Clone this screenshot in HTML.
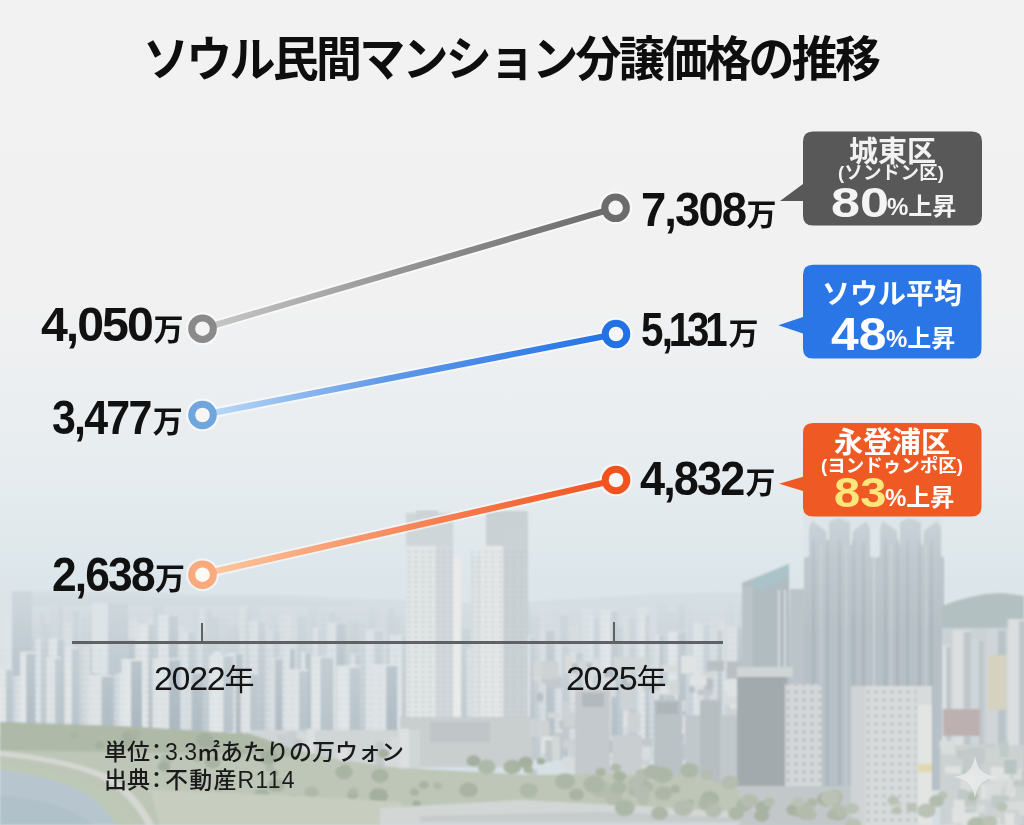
<!DOCTYPE html>
<html lang="ja"><head><meta charset="utf-8">
<title>ソウル民間マンション分譲価格の推移</title>
<style>
html,body{margin:0;padding:0}
body{width:1024px;height:825px;overflow:hidden;position:relative;background:#f0f0f0;font-family:"Liberation Sans","Noto Sans CJK JP",sans-serif}
#bg{position:absolute;left:0;top:0;width:1024px;height:825px}
#fg{position:absolute;left:0;top:0;width:1024px;height:825px}
.t{position:absolute;white-space:nowrap;line-height:1}
</style></head>
<body>
<svg id="bg" width="1024" height="825" viewBox="0 0 1024 825">
<defs>
<linearGradient id="sky" gradientUnits="userSpaceOnUse" x1="0" y1="0" x2="0" y2="825">
<stop offset="0" stop-color="#f2f2f2"/>
<stop offset="0.36" stop-color="#f1f1f1"/>
<stop offset="0.46" stop-color="#eceff1"/>
<stop offset="0.58" stop-color="#e6ecef"/>
<stop offset="0.68" stop-color="#dee7eb"/>
<stop offset="0.73" stop-color="#dae4e9"/>
<stop offset="1" stop-color="#d5dee3"/>
</linearGradient>
<!--citydefs--><pattern id="win" width="8" height="6" patternUnits="userSpaceOnUse"><rect x="1" y="1" width="5" height="2" fill="#9aa7ad"/></pattern>
<pattern id="win2" width="7" height="5" patternUnits="userSpaceOnUse"><rect x="1" y="1" width="4" height="2" fill="#b4bcc0"/></pattern>
<pattern id="win3" width="8" height="8" patternUnits="userSpaceOnUse"><rect x="2" y="2" width="4" height="4" fill="#a9b0b4"/></pattern>
<linearGradient id="haze" x1="0" y1="0" x2="0" y2="1"><stop offset="0" stop-color="#dde5e9" stop-opacity="0.75"/><stop offset="0.4" stop-color="#dde5e9" stop-opacity="0.4"/><stop offset="1" stop-color="#dde5e9" stop-opacity="0"/></linearGradient>
<linearGradient id="haze2" x1="0" y1="0" x2="0" y2="1"><stop offset="0" stop-color="#d9e2e7" stop-opacity="0.6"/><stop offset="0.4" stop-color="#d9e2e7" stop-opacity="0.25"/><stop offset="1" stop-color="#d9e2e7" stop-opacity="0"/></linearGradient>
<filter id="soft" x="0" y="0" width="1" height="1"><feGaussianBlur stdDeviation="0.9"/></filter><!--/citydefs-->
</defs>
<rect width="1024" height="825" fill="url(#sky)"/>
<g id="city" filter="url(#soft)">
<path d="M0 593 L40 590 L90 592 L140 591 L200 595 L260 594 L330 597 L400 600 L470 603 L540 601 L600 597 L660 594 L720 592 L760 594 L760 640 L0 640 Z" fill="#c4d0d6"/>
<path d="M0 597 L60 594 L120 596 L180 598 L250 598 L300 601 L350 604 L350 640 L0 640 Z" fill="#bccacf"/>
<rect x="0.0" y="606.0" width="942.0" height="140.0" fill="#c9d2d7"/>
<rect x="0.0" y="606.8" width="6.6" height="153.2" fill="#c3cdd3"/>
<rect x="5.8" y="612.1" width="8.3" height="147.9" fill="#c3cdd3"/>
<rect x="15.8" y="605.1" width="5.7" height="154.9" fill="#d6dcdf"/>
<rect x="20.8" y="613.6" width="4.7" height="146.4" fill="#bfc9cf"/>
<rect x="24.8" y="618.7" width="5.8" height="141.3" fill="#c3cdd3"/>
<rect x="31.4" y="627.4" width="7.2" height="132.6" fill="#c3cdd3"/>
<rect x="39.2" y="613.5" width="5.1" height="146.5" fill="#bfc9cf"/>
<rect x="43.6" y="623.4" width="6.5" height="136.6" fill="#b9c5cb"/>
<rect x="49.4" y="607.7" width="8.6" height="152.3" fill="#c3cdd3"/>
<rect x="58.6" y="604.5" width="4.5" height="155.5" fill="#b9c5cb"/>
<rect x="63.6" y="622.4" width="8.3" height="137.6" fill="#d6dcdf"/>
<rect x="72.6" y="610.5" width="7.6" height="149.5" fill="#b9c5cb"/>
<rect x="81.3" y="617.4" width="6.0" height="142.6" fill="#bfc9cf"/>
<rect x="87.8" y="614.2" width="6.7" height="145.8" fill="#bfc9cf"/>
<rect x="96.5" y="613.5" width="4.9" height="146.5" fill="#ced6da"/>
<rect x="100.9" y="604.0" width="7.9" height="156.0" fill="#c3cdd3"/>
<rect x="110.1" y="624.9" width="8.6" height="135.1" fill="#ced6da"/>
<rect x="118.7" y="615.4" width="6.8" height="144.6" fill="#d6dcdf"/>
<rect x="124.7" y="609.7" width="4.7" height="150.3" fill="#c3cdd3"/>
<rect x="128.6" y="619.2" width="9.6" height="140.8" fill="#d6dcdf"/>
<rect x="138.1" y="619.7" width="7.1" height="140.3" fill="#c3cdd3"/>
<rect x="147.0" y="618.3" width="6.8" height="141.7" fill="#d6dcdf"/>
<rect x="153.0" y="606.2" width="10.1" height="153.8" fill="#b9c5cb"/>
<rect x="163.4" y="615.4" width="11.3" height="144.6" fill="#b9c5cb"/>
<rect x="175.0" y="625.1" width="8.4" height="134.9" fill="#d6dcdf"/>
<rect x="185.0" y="613.4" width="6.2" height="146.6" fill="#ced6da"/>
<rect x="192.3" y="608.8" width="7.0" height="151.2" fill="#c3cdd3"/>
<rect x="198.9" y="608.8" width="5.9" height="151.2" fill="#d6dcdf"/>
<rect x="206.2" y="610.0" width="5.5" height="150.0" fill="#b9c5cb"/>
<rect x="211.9" y="617.2" width="7.0" height="142.8" fill="#b9c5cb"/>
<rect x="220.0" y="618.4" width="8.1" height="141.6" fill="#c3cdd3"/>
<rect x="228.5" y="626.8" width="11.0" height="133.2" fill="#bfc9cf"/>
<rect x="239.6" y="605.6" width="7.2" height="154.4" fill="#d6dcdf"/>
<rect x="246.0" y="608.2" width="4.5" height="151.8" fill="#b9c5cb"/>
<rect x="249.8" y="605.6" width="8.8" height="154.4" fill="#bfc9cf"/>
<rect x="258.1" y="612.1" width="4.8" height="147.9" fill="#c3cdd3"/>
<rect x="262.1" y="612.4" width="5.7" height="147.6" fill="#ced6da"/>
<rect x="269.7" y="614.9" width="8.8" height="145.1" fill="#c3cdd3"/>
<rect x="280.0" y="614.6" width="11.9" height="145.4" fill="#d6dcdf"/>
<rect x="291.9" y="621.7" width="5.2" height="138.3" fill="#ced6da"/>
<rect x="297.5" y="615.9" width="9.5" height="144.1" fill="#b9c5cb"/>
<rect x="308.9" y="606.7" width="8.2" height="153.3" fill="#bfc9cf"/>
<rect x="318.8" y="610.5" width="10.1" height="149.5" fill="#c3cdd3"/>
<rect x="330.0" y="612.2" width="6.1" height="147.8" fill="#b9c5cb"/>
<rect x="336.2" y="616.5" width="5.8" height="143.5" fill="#bfc9cf"/>
<rect x="341.9" y="623.3" width="5.8" height="136.7" fill="#b9c5cb"/>
<rect x="349.1" y="621.5" width="10.5" height="138.5" fill="#b9c5cb"/>
<rect x="359.3" y="621.3" width="7.9" height="138.7" fill="#c3cdd3"/>
<rect x="368.6" y="607.8" width="7.8" height="152.2" fill="#bfc9cf"/>
<rect x="378.2" y="626.4" width="7.6" height="133.6" fill="#ced6da"/>
<rect x="387.7" y="608.5" width="6.9" height="151.5" fill="#b9c5cb"/>
<rect x="395.0" y="615.1" width="6.7" height="144.9" fill="#bfc9cf"/>
<rect x="403.2" y="627.2" width="7.8" height="132.8" fill="#c3cdd3"/>
<rect x="412.6" y="625.1" width="5.0" height="134.9" fill="#b9c5cb"/>
<rect x="418.0" y="616.0" width="5.4" height="144.0" fill="#d6dcdf"/>
<rect x="423.8" y="611.8" width="9.9" height="148.2" fill="#b9c5cb"/>
<rect x="432.8" y="623.7" width="8.7" height="136.3" fill="#bfc9cf"/>
<rect x="443.0" y="616.4" width="11.8" height="143.6" fill="#bfc9cf"/>
<rect x="455.5" y="625.4" width="4.2" height="134.6" fill="#c3cdd3"/>
<rect x="460.3" y="628.9" width="11.5" height="131.1" fill="#b9c5cb"/>
<rect x="470.8" y="626.3" width="5.7" height="133.7" fill="#ced6da"/>
<rect x="476.3" y="629.8" width="7.4" height="130.2" fill="#ced6da"/>
<rect x="485.3" y="620.4" width="9.3" height="139.6" fill="#bfc9cf"/>
<rect x="494.0" y="628.9" width="5.2" height="131.1" fill="#b9c5cb"/>
<rect x="500.1" y="611.4" width="10.2" height="148.6" fill="#bfc9cf"/>
<rect x="511.5" y="620.4" width="8.5" height="139.6" fill="#bfc9cf"/>
<rect x="520.4" y="609.4" width="10.2" height="150.6" fill="#b9c5cb"/>
<rect x="530.4" y="615.7" width="10.2" height="144.3" fill="#bfc9cf"/>
<rect x="539.7" y="604.6" width="11.2" height="155.4" fill="#ced6da"/>
<rect x="551.6" y="615.8" width="8.0" height="144.2" fill="#ced6da"/>
<rect x="560.0" y="615.0" width="8.3" height="145.0" fill="#b9c5cb"/>
<rect x="569.4" y="626.6" width="11.0" height="133.4" fill="#ced6da"/>
<rect x="582.2" y="608.1" width="11.1" height="151.9" fill="#d6dcdf"/>
<rect x="592.7" y="614.1" width="5.0" height="145.9" fill="#c3cdd3"/>
<rect x="598.7" y="608.3" width="7.4" height="151.7" fill="#ced6da"/>
<rect x="607.5" y="606.9" width="11.2" height="153.1" fill="#ced6da"/>
<rect x="618.1" y="627.2" width="11.1" height="132.8" fill="#b9c5cb"/>
<rect x="630.4" y="625.1" width="4.8" height="134.9" fill="#b9c5cb"/>
<rect x="637.1" y="607.0" width="10.7" height="153.0" fill="#d6dcdf"/>
<rect x="649.8" y="613.5" width="7.2" height="146.5" fill="#ced6da"/>
<rect x="657.0" y="603.5" width="9.8" height="156.5" fill="#bfc9cf"/>
<rect x="667.1" y="612.6" width="9.6" height="147.4" fill="#bfc9cf"/>
<rect x="677.6" y="604.6" width="8.1" height="155.4" fill="#b9c5cb"/>
<rect x="687.6" y="609.6" width="4.8" height="150.4" fill="#c3cdd3"/>
<rect x="694.2" y="621.9" width="5.5" height="138.1" fill="#d6dcdf"/>
<rect x="701.2" y="626.7" width="9.4" height="133.3" fill="#d6dcdf"/>
<rect x="710.0" y="617.3" width="11.4" height="142.7" fill="#ced6da"/>
<rect x="720.7" y="620.2" width="4.5" height="139.8" fill="#d6dcdf"/>
<rect x="726.8" y="603.4" width="6.2" height="156.6" fill="#c3cdd3"/>
<rect x="734.4" y="624.4" width="4.7" height="135.6" fill="#c3cdd3"/>
<rect x="738.8" y="603.3" width="5.0" height="156.7" fill="#bfc9cf"/>
<rect x="744.1" y="618.5" width="11.3" height="141.5" fill="#c3cdd3"/>
<rect x="756.0" y="605.7" width="5.9" height="154.3" fill="#b9c5cb"/>
<rect x="761.7" y="626.3" width="5.4" height="133.7" fill="#ced6da"/>
<rect x="767.7" y="614.1" width="5.6" height="145.9" fill="#b9c5cb"/>
<rect x="773.2" y="627.9" width="10.4" height="132.1" fill="#c3cdd3"/>
<rect x="782.6" y="616.8" width="9.9" height="143.2" fill="#b9c5cb"/>
<rect x="793.0" y="614.2" width="6.0" height="145.8" fill="#d6dcdf"/>
<rect x="800.0" y="625.2" width="8.4" height="134.8" fill="#bfc9cf"/>
<rect x="808.3" y="608.7" width="5.7" height="151.3" fill="#b9c5cb"/>
<rect x="815.5" y="618.9" width="9.7" height="141.1" fill="#d6dcdf"/>
<rect x="827.1" y="623.9" width="11.9" height="136.1" fill="#c3cdd3"/>
<rect x="838.2" y="609.4" width="9.9" height="150.6" fill="#b9c5cb"/>
<rect x="847.3" y="612.5" width="9.3" height="147.5" fill="#bfc9cf"/>
<rect x="857.6" y="609.1" width="6.3" height="150.9" fill="#ced6da"/>
<rect x="863.0" y="609.7" width="5.5" height="150.3" fill="#c3cdd3"/>
<rect x="868.3" y="627.3" width="11.7" height="132.7" fill="#bfc9cf"/>
<rect x="879.9" y="625.1" width="4.3" height="134.9" fill="#b9c5cb"/>
<rect x="884.3" y="612.5" width="4.0" height="147.5" fill="#d6dcdf"/>
<rect x="888.1" y="609.2" width="9.2" height="150.8" fill="#c3cdd3"/>
<rect x="896.6" y="606.6" width="10.5" height="153.4" fill="#bfc9cf"/>
<rect x="906.3" y="610.6" width="4.2" height="149.4" fill="#b9c5cb"/>
<rect x="909.7" y="624.3" width="11.7" height="135.7" fill="#b9c5cb"/>
<rect x="922.4" y="625.0" width="9.7" height="135.0" fill="#d6dcdf"/>
<rect x="933.4" y="615.4" width="9.8" height="144.6" fill="#ced6da"/>
<rect x="-5.0" y="612.0" width="15.7" height="128.0" fill="#d9dee1"/>
<rect x="2.9" y="613.0" width="7.8" height="127.0" fill="#b5c1c8"/>
<rect x="17.2" y="635.6" width="17.0" height="104.4" fill="#dde2e4"/>
<rect x="25.4" y="636.6" width="8.8" height="103.4" fill="#b5c1c8"/>
<rect x="35.7" y="638.7" width="8.5" height="101.3" fill="#dde2e4"/>
<rect x="40.6" y="639.7" width="3.6" height="100.3" fill="#bcc7cd"/>
<rect x="48.6" y="638.2" width="15.5" height="101.8" fill="#e2e5e7"/>
<rect x="57.2" y="639.2" width="7.0" height="100.8" fill="#aebbc3"/>
<rect x="67.9" y="652.0" width="8.8" height="88.0" fill="#dde2e4"/>
<rect x="72.4" y="653.0" width="4.3" height="87.0" fill="#aebbc3"/>
<rect x="82.2" y="646.4" width="13.7" height="93.6" fill="#d4dadd"/>
<rect x="90.4" y="647.4" width="5.4" height="92.6" fill="#b5c1c8"/>
<rect x="98.2" y="630.7" width="15.8" height="109.3" fill="#d9dee1"/>
<rect x="108.3" y="631.7" width="5.8" height="108.3" fill="#a8b5bd"/>
<rect x="119.6" y="638.9" width="15.4" height="101.1" fill="#dde2e4"/>
<rect x="127.8" y="639.9" width="7.2" height="100.1" fill="#a8b5bd"/>
<rect x="137.6" y="623.7" width="16.9" height="116.3" fill="#e2e5e7"/>
<rect x="148.5" y="624.7" width="6.0" height="115.3" fill="#aebbc3"/>
<rect x="158.4" y="614.5" width="19.7" height="125.5" fill="#e2e5e7"/>
<rect x="168.5" y="615.5" width="9.5" height="124.5" fill="#a8b5bd"/>
<rect x="183.3" y="631.0" width="11.4" height="109.0" fill="#dde2e4"/>
<rect x="188.5" y="632.0" width="6.3" height="108.0" fill="#b5c1c8"/>
<rect x="197.6" y="631.3" width="9.0" height="108.7" fill="#d4dadd"/>
<rect x="202.7" y="632.3" width="4.0" height="107.7" fill="#bcc7cd"/>
<rect x="213.6" y="651.2" width="12.6" height="88.8" fill="#e2e5e7"/>
<rect x="221.6" y="652.2" width="4.6" height="87.8" fill="#aebbc3"/>
<rect x="228.1" y="652.9" width="14.3" height="87.1" fill="#e2e5e7"/>
<rect x="235.7" y="653.9" width="6.7" height="86.1" fill="#a8b5bd"/>
<rect x="248.7" y="620.4" width="16.4" height="119.6" fill="#d9dee1"/>
<rect x="258.1" y="621.4" width="7.0" height="118.6" fill="#b5c1c8"/>
<rect x="266.2" y="630.3" width="13.9" height="109.7" fill="#d4dadd"/>
<rect x="273.2" y="631.3" width="6.9" height="108.7" fill="#bcc7cd"/>
<rect x="283.1" y="647.8" width="11.8" height="92.2" fill="#dde2e4"/>
<rect x="290.0" y="648.8" width="4.9" height="91.2" fill="#a8b5bd"/>
<rect x="301.0" y="651.7" width="9.4" height="88.3" fill="#dde2e4"/>
<rect x="305.4" y="652.7" width="5.0" height="87.3" fill="#a8b5bd"/>
<rect x="312.9" y="627.6" width="8.8" height="112.4" fill="#dde2e4"/>
<rect x="318.0" y="628.6" width="3.7" height="111.4" fill="#bcc7cd"/>
<rect x="327.2" y="622.6" width="18.3" height="117.4" fill="#dde2e4"/>
<rect x="336.1" y="623.6" width="9.4" height="116.4" fill="#a8b5bd"/>
<rect x="350.3" y="653.7" width="9.8" height="86.3" fill="#d9dee1"/>
<rect x="355.7" y="654.7" width="4.4" height="85.3" fill="#b5c1c8"/>
<rect x="365.7" y="629.2" width="17.4" height="110.8" fill="#dde2e4"/>
<rect x="374.2" y="630.2" width="8.9" height="109.8" fill="#bcc7cd"/>
<rect x="389.6" y="634.7" width="19.3" height="105.3" fill="#dde2e4"/>
<rect x="402.0" y="635.7" width="6.9" height="104.3" fill="#bcc7cd"/>
<rect x="412.6" y="633.6" width="17.0" height="106.4" fill="#dde2e4"/>
<rect x="420.6" y="634.6" width="9.1" height="105.4" fill="#b5c1c8"/>
<rect x="431.7" y="632.7" width="13.0" height="107.3" fill="#d4dadd"/>
<rect x="439.1" y="633.7" width="5.6" height="106.3" fill="#b5c1c8"/>
<rect x="447.5" y="630.0" width="14.7" height="110.0" fill="#e2e5e7"/>
<rect x="456.8" y="631.0" width="5.4" height="109.0" fill="#bcc7cd"/>
<rect x="466.5" y="647.8" width="13.4" height="92.2" fill="#d9dee1"/>
<rect x="474.8" y="648.8" width="5.1" height="91.2" fill="#b5c1c8"/>
<rect x="482.4" y="634.6" width="10.1" height="105.4" fill="#d4dadd"/>
<rect x="488.4" y="635.6" width="4.1" height="104.4" fill="#b5c1c8"/>
<rect x="498.8" y="637.4" width="17.0" height="102.6" fill="#e2e5e7"/>
<rect x="508.5" y="638.4" width="7.2" height="101.6" fill="#a8b5bd"/>
<rect x="521.3" y="635.8" width="14.0" height="104.2" fill="#e2e5e7"/>
<rect x="530.1" y="636.8" width="5.2" height="103.2" fill="#b5c1c8"/>
<rect x="538.6" y="629.4" width="15.7" height="110.6" fill="#d4dadd"/>
<rect x="546.1" y="630.4" width="8.2" height="109.6" fill="#aebbc3"/>
<rect x="556.1" y="644.4" width="13.1" height="95.6" fill="#d9dee1"/>
<rect x="562.1" y="645.4" width="7.1" height="94.6" fill="#bcc7cd"/>
<rect x="570.2" y="651.7" width="12.7" height="88.3" fill="#d9dee1"/>
<rect x="576.0" y="652.7" width="6.9" height="87.3" fill="#b5c1c8"/>
<rect x="588.6" y="616.8" width="10.7" height="123.2" fill="#dde2e4"/>
<rect x="593.5" y="617.8" width="5.8" height="122.2" fill="#bcc7cd"/>
<rect x="600.8" y="610.1" width="17.3" height="129.9" fill="#e2e5e7"/>
<rect x="611.2" y="611.1" width="6.9" height="128.9" fill="#aebbc3"/>
<rect x="623.0" y="615.8" width="11.6" height="124.2" fill="#d4dadd"/>
<rect x="629.3" y="616.8" width="5.3" height="123.2" fill="#bcc7cd"/>
<rect x="639.8" y="613.2" width="9.3" height="126.8" fill="#e2e5e7"/>
<rect x="645.2" y="614.2" width="4.0" height="125.8" fill="#b5c1c8"/>
<rect x="654.9" y="634.2" width="8.0" height="105.8" fill="#d9dee1"/>
<rect x="659.7" y="635.2" width="3.3" height="104.8" fill="#a8b5bd"/>
<rect x="667.8" y="631.4" width="18.6" height="108.6" fill="#e2e5e7"/>
<rect x="677.8" y="632.4" width="8.5" height="107.6" fill="#aebbc3"/>
<rect x="693.1" y="623.8" width="16.5" height="116.2" fill="#dde2e4"/>
<rect x="703.2" y="624.8" width="6.4" height="115.2" fill="#bcc7cd"/>
<rect x="711.1" y="629.1" width="10.7" height="110.9" fill="#d4dadd"/>
<rect x="717.6" y="630.1" width="4.2" height="109.9" fill="#aebbc3"/>
<rect x="727.0" y="626.3" width="16.6" height="113.7" fill="#d9dee1"/>
<rect x="737.1" y="627.3" width="6.5" height="112.7" fill="#a8b5bd"/>
<rect x="749.1" y="619.2" width="14.1" height="120.8" fill="#e2e5e7"/>
<rect x="757.3" y="620.2" width="5.8" height="119.8" fill="#b5c1c8"/>
<rect x="0" y="610" width="760" height="130" fill="url(#win)" opacity="0.16"/>
<rect x="0.0" y="589.0" width="12.0" height="85.0" fill="#dde2e4"/>
<rect x="12.0" y="591.0" width="20.0" height="85.0" fill="#aab7bf"/>
<rect x="92.0" y="603.0" width="16.0" height="70.0" fill="#dde2e4"/>
<rect x="108.0" y="603.0" width="20.0" height="70.0" fill="#b0bcc4"/>
<rect x="-3.0" y="667.8" width="15.5" height="64.2" fill="#e3e6e7"/>
<rect x="6.0" y="669.8" width="6.6" height="62.2" fill="#b3bfc6"/>
<rect x="20.0" y="651.7" width="15.0" height="80.3" fill="#e3e6e7"/>
<rect x="26.3" y="653.7" width="8.7" height="78.3" fill="#a9b6be"/>
<rect x="46.5" y="656.8" width="14.3" height="75.2" fill="#dfe3e5"/>
<rect x="55.1" y="658.8" width="5.8" height="73.2" fill="#b3bfc6"/>
<rect x="65.2" y="646.8" width="12.8" height="85.2" fill="#e3e6e7"/>
<rect x="71.7" y="648.8" width="6.3" height="83.2" fill="#b3bfc6"/>
<rect x="88.9" y="674.9" width="23.7" height="57.1" fill="#dfe3e5"/>
<rect x="101.6" y="676.9" width="11.1" height="55.1" fill="#a9b6be"/>
<rect x="121.5" y="659.0" width="20.4" height="73.0" fill="#e3e6e7"/>
<rect x="131.1" y="661.0" width="10.9" height="71.0" fill="#a3b1ba"/>
<rect x="152.5" y="658.3" width="27.8" height="73.7" fill="#dfe3e5"/>
<rect x="169.1" y="660.3" width="11.1" height="71.7" fill="#a3b1ba"/>
<rect x="184.0" y="671.6" width="18.7" height="60.4" fill="#d6dcdf"/>
<rect x="191.6" y="673.6" width="11.1" height="58.4" fill="#a9b6be"/>
<rect x="209.1" y="654.3" width="24.3" height="77.7" fill="#e3e6e7"/>
<rect x="223.3" y="656.3" width="10.1" height="75.7" fill="#b3bfc6"/>
<rect x="240.7" y="672.6" width="18.0" height="59.4" fill="#dfe3e5"/>
<rect x="250.3" y="674.6" width="8.3" height="57.4" fill="#b3bfc6"/>
<rect x="269.7" y="657.3" width="12.5" height="74.7" fill="#d6dcdf"/>
<rect x="275.3" y="659.3" width="6.9" height="72.7" fill="#a9b6be"/>
<rect x="288.6" y="669.1" width="19.4" height="62.9" fill="#dfe3e5"/>
<rect x="299.2" y="671.1" width="8.8" height="60.9" fill="#b3bfc6"/>
<rect x="311.6" y="655.9" width="21.7" height="76.1" fill="#e3e6e7"/>
<rect x="320.4" y="657.9" width="12.8" height="74.1" fill="#b3bfc6"/>
<rect x="336.7" y="665.7" width="23.9" height="66.3" fill="#e3e6e7"/>
<rect x="349.6" y="667.7" width="11.0" height="64.3" fill="#b3bfc6"/>
<rect x="370.4" y="664.0" width="26.7" height="68.0" fill="#dfe3e5"/>
<rect x="386.3" y="666.0" width="10.8" height="66.0" fill="#a9b6be"/>
<rect x="0" y="645" width="400" height="88" fill="url(#win)" opacity="0.12"/>
<rect x="0" y="585" width="1024" height="180" fill="url(#haze)"/>
<rect x="406.0" y="513.0" width="47.0" height="210.0" fill="#cfd6d9"/>
<rect x="416.0" y="510.0" width="22.0" height="8.0" fill="#cdd4d7"/>
<rect x="406.0" y="546.0" width="30.0" height="180.0" fill="#e1e5e6"/>
<rect x="436.0" y="546.0" width="17.0" height="180.0" fill="#d2d8db"/>
<rect x="453.0" y="556.0" width="8.0" height="170.0" fill="#e8eaeb"/>
<rect x="471.0" y="556.0" width="12.0" height="170.0" fill="#dde2e4"/>
<rect x="481.0" y="541.0" width="22.0" height="185.0" fill="#e4e7e8"/>
<rect x="486.0" y="511.0" width="42.0" height="35.0" fill="#cad1d4"/>
<rect x="503.0" y="530.0" width="25.0" height="195.0" fill="#cbd2d5"/>
<rect x="406" y="548" width="47" height="175" fill="url(#win2)" opacity="0.35"/>
<rect x="471" y="548" width="57" height="175" fill="url(#win2)" opacity="0.35"/>
<rect x="400.0" y="717.0" width="132.0" height="50.0" fill="#c9cecf"/>
<rect x="430.0" y="722.0" width="60.0" height="20.0" fill="#c0c6c8"/>
<rect x="681.1" y="715.5" width="15.1" height="18.4" fill="#e0e3e3"/>
<rect x="702.4" y="672.3" width="11.5" height="5.1" fill="#d2d7d8"/>
<rect x="592.9" y="745.0" width="7.0" height="9.0" fill="#c2c8cb"/>
<rect x="626.6" y="756.9" width="12.7" height="13.7" fill="#e0e3e3"/>
<rect x="689.1" y="687.1" width="5.8" height="5.6" fill="#b9c0c4"/>
<rect x="644.5" y="675.9" width="10.5" height="6.8" fill="#d8dcdd"/>
<rect x="584.7" y="665.9" width="6.3" height="13.5" fill="#d2d7d8"/>
<rect x="736.0" y="677.5" width="6.7" height="12.8" fill="#d2d7d8"/>
<rect x="578.3" y="725.0" width="15.1" height="17.9" fill="#c2c8cb"/>
<rect x="590.9" y="728.7" width="9.8" height="17.5" fill="#cdd2d4"/>
<rect x="622.0" y="679.1" width="8.1" height="9.8" fill="#b9c0c4"/>
<rect x="568.3" y="663.4" width="8.3" height="9.2" fill="#b9c0c4"/>
<rect x="577.5" y="760.1" width="13.5" height="21.8" fill="#d8dcdd"/>
<rect x="529.0" y="769.8" width="8.0" height="12.6" fill="#c2c8cb"/>
<rect x="536.6" y="693.2" width="6.5" height="8.2" fill="#b9c0c4"/>
<rect x="569.6" y="664.8" width="11.7" height="8.0" fill="#b9c0c4"/>
<rect x="583.6" y="756.1" width="17.3" height="6.8" fill="#b9c0c4"/>
<rect x="679.9" y="700.5" width="5.5" height="10.8" fill="#d8dcdd"/>
<rect x="571.7" y="688.1" width="12.8" height="16.1" fill="#cdd2d4"/>
<rect x="702.4" y="761.4" width="10.3" height="11.3" fill="#b9c0c4"/>
<rect x="594.8" y="681.4" width="15.3" height="14.3" fill="#d8dcdd"/>
<rect x="615.3" y="758.5" width="13.6" height="7.6" fill="#b9c0c4"/>
<rect x="547.5" y="676.3" width="14.0" height="12.0" fill="#c2c8cb"/>
<rect x="670.9" y="709.3" width="5.7" height="17.7" fill="#c2c8cb"/>
<rect x="616.6" y="657.4" width="15.0" height="18.6" fill="#d2d7d8"/>
<rect x="570.2" y="749.6" width="7.6" height="5.1" fill="#cdd2d4"/>
<rect x="618.7" y="761.6" width="10.3" height="20.0" fill="#e0e3e3"/>
<rect x="693.4" y="671.9" width="5.7" height="7.4" fill="#e0e3e3"/>
<rect x="547.1" y="735.9" width="9.8" height="13.6" fill="#cdd2d4"/>
<rect x="602.5" y="676.0" width="7.2" height="6.1" fill="#e0e3e3"/>
<rect x="633.0" y="759.6" width="17.6" height="8.4" fill="#cdd2d4"/>
<rect x="707.2" y="660.7" width="16.9" height="10.3" fill="#b9c0c4"/>
<rect x="726.2" y="705.4" width="16.8" height="15.5" fill="#cdd2d4"/>
<rect x="665.0" y="766.4" width="13.1" height="15.5" fill="#cdd2d4"/>
<rect x="705.4" y="678.8" width="7.8" height="11.8" fill="#b9c0c4"/>
<rect x="561.5" y="701.7" width="6.9" height="21.5" fill="#cdd2d4"/>
<rect x="536.8" y="728.1" width="14.8" height="5.6" fill="#c2c8cb"/>
<rect x="553.2" y="732.9" width="12.2" height="15.7" fill="#c2c8cb"/>
<rect x="666.9" y="695.1" width="8.2" height="11.6" fill="#c2c8cb"/>
<rect x="623.6" y="712.0" width="5.3" height="15.5" fill="#e0e3e3"/>
<rect x="627.6" y="713.1" width="13.0" height="18.9" fill="#cdd2d4"/>
<rect x="701.5" y="707.0" width="5.9" height="11.1" fill="#c2c8cb"/>
<rect x="547.6" y="712.5" width="11.6" height="5.7" fill="#d2d7d8"/>
<rect x="555.9" y="774.9" width="9.1" height="17.2" fill="#d8dcdd"/>
<rect x="539.6" y="720.5" width="9.9" height="21.2" fill="#cdd2d4"/>
<rect x="533.5" y="663.6" width="13.0" height="16.8" fill="#d8dcdd"/>
<rect x="569.5" y="782.6" width="11.4" height="21.3" fill="#cdd2d4"/>
<rect x="674.8" y="748.7" width="7.9" height="19.2" fill="#b9c0c4"/>
<rect x="689.8" y="675.6" width="16.7" height="9.7" fill="#e0e3e3"/>
<rect x="558.7" y="720.3" width="17.0" height="8.5" fill="#c2c8cb"/>
<rect x="659.8" y="685.9" width="9.8" height="8.4" fill="#e0e3e3"/>
<rect x="562.5" y="776.7" width="13.8" height="20.2" fill="#cdd2d4"/>
<rect x="697.5" y="689.4" width="15.0" height="5.8" fill="#c2c8cb"/>
<rect x="734.8" y="713.9" width="11.8" height="16.7" fill="#d8dcdd"/>
<rect x="581.9" y="724.6" width="16.1" height="17.5" fill="#c2c8cb"/>
<rect x="584.7" y="783.8" width="12.5" height="11.1" fill="#d8dcdd"/>
<rect x="622.6" y="678.0" width="14.7" height="5.8" fill="#b9c0c4"/>
<rect x="582.3" y="738.1" width="17.8" height="15.0" fill="#d2d7d8"/>
<rect x="719.7" y="750.3" width="14.7" height="8.8" fill="#c2c8cb"/>
<rect x="659.8" y="711.2" width="11.7" height="20.2" fill="#cdd2d4"/>
<rect x="632.5" y="734.6" width="5.6" height="5.9" fill="#b9c0c4"/>
<rect x="604.0" y="668.8" width="9.6" height="8.8" fill="#b9c0c4"/>
<rect x="592.4" y="672.4" width="9.8" height="19.1" fill="#cdd2d4"/>
<rect x="556.8" y="776.8" width="8.2" height="7.5" fill="#d8dcdd"/>
<rect x="541.6" y="673.8" width="13.7" height="9.6" fill="#c2c8cb"/>
<rect x="735.0" y="662.3" width="15.7" height="20.2" fill="#b9c0c4"/>
<rect x="666.2" y="712.7" width="17.2" height="17.5" fill="#cdd2d4"/>
<rect x="563.3" y="655.1" width="5.8" height="5.4" fill="#cdd2d4"/>
<rect x="578.9" y="662.6" width="15.1" height="5.2" fill="#b9c0c4"/>
<rect x="668.6" y="680.6" width="10.4" height="13.8" fill="#d2d7d8"/>
<rect x="636.5" y="738.4" width="15.6" height="8.0" fill="#c2c8cb"/>
<rect x="541.6" y="736.4" width="17.9" height="17.3" fill="#e0e3e3"/>
<rect x="681.1" y="655.8" width="16.0" height="17.7" fill="#e0e3e3"/>
<rect x="545.2" y="740.2" width="7.3" height="21.9" fill="#c2c8cb"/>
<rect x="577.7" y="660.0" width="9.4" height="17.7" fill="#d2d7d8"/>
<rect x="729.8" y="689.2" width="5.7" height="15.8" fill="#d2d7d8"/>
<rect x="621.3" y="757.5" width="11.8" height="9.5" fill="#d2d7d8"/>
<rect x="726.7" y="771.2" width="6.1" height="13.6" fill="#cdd2d4"/>
<rect x="583.7" y="685.7" width="14.7" height="21.1" fill="#d2d7d8"/>
<rect x="723.8" y="680.0" width="10.1" height="15.2" fill="#e0e3e3"/>
<rect x="722.2" y="737.0" width="14.0" height="16.3" fill="#b9c0c4"/>
<rect x="628.5" y="764.2" width="14.1" height="19.6" fill="#e0e3e3"/>
<rect x="732.5" y="685.4" width="16.5" height="18.4" fill="#e0e3e3"/>
<rect x="661.2" y="665.1" width="16.8" height="7.5" fill="#d8dcdd"/>
<rect x="551.9" y="735.9" width="7.1" height="21.6" fill="#d2d7d8"/>
<rect x="534.1" y="660.4" width="14.0" height="15.8" fill="#d2d7d8"/>
<rect x="542.5" y="661.1" width="16.1" height="18.0" fill="#cdd2d4"/>
<rect x="703.0" y="761.5" width="16.6" height="6.1" fill="#d2d7d8"/>
<rect x="730.1" y="668.9" width="7.7" height="6.9" fill="#d8dcdd"/>
<rect x="731.1" y="773.4" width="14.8" height="6.5" fill="#d2d7d8"/>
<rect x="663.3" y="717.0" width="6.7" height="18.5" fill="#d2d7d8"/>
<rect x="571.9" y="696.5" width="10.5" height="5.4" fill="#c2c8cb"/>
<rect x="727.0" y="661.3" width="14.9" height="20.5" fill="#b9c0c4"/>
<rect x="635.8" y="765.7" width="13.0" height="5.5" fill="#e0e3e3"/>
<rect x="534.7" y="722.4" width="6.3" height="13.0" fill="#d8dcdd"/>
<rect x="643.1" y="683.2" width="16.2" height="6.5" fill="#c2c8cb"/>
<rect x="564.5" y="655.2" width="7.6" height="18.0" fill="#d8dcdd"/>
<rect x="528.9" y="718.8" width="11.4" height="18.5" fill="#cdd2d4"/>
<rect x="735.0" y="732.0" width="17.4" height="13.8" fill="#b9c0c4"/>
<rect x="730.0" y="691.9" width="7.8" height="16.9" fill="#e0e3e3"/>
<rect x="563.5" y="777.0" width="15.0" height="13.3" fill="#d2d7d8"/>
<rect x="648.1" y="668.6" width="9.2" height="6.6" fill="#e0e3e3"/>
<rect x="718.9" y="751.9" width="10.5" height="16.0" fill="#c2c8cb"/>
<rect x="572.1" y="689.2" width="16.7" height="13.5" fill="#e0e3e3"/>
<rect x="738.2" y="737.0" width="17.3" height="7.2" fill="#b9c0c4"/>
<rect x="689.5" y="752.9" width="13.4" height="10.9" fill="#c2c8cb"/>
<rect x="639.7" y="767.8" width="10.9" height="14.4" fill="#c2c8cb"/>
<rect x="564.3" y="712.0" width="15.1" height="14.8" fill="#cdd2d4"/>
<rect x="599.5" y="738.6" width="14.1" height="13.6" fill="#c2c8cb"/>
<rect x="592.5" y="746.4" width="16.0" height="7.6" fill="#cdd2d4"/>
<rect x="736.6" y="749.0" width="12.8" height="10.9" fill="#cdd2d4"/>
<rect x="598.2" y="679.6" width="17.7" height="17.4" fill="#d8dcdd"/>
<rect x="563.2" y="740.5" width="7.5" height="7.6" fill="#cdd2d4"/>
<rect x="698.1" y="750.3" width="10.7" height="8.3" fill="#d2d7d8"/>
<rect x="723.0" y="691.5" width="16.5" height="12.9" fill="#d8dcdd"/>
<rect x="613.4" y="757.8" width="14.0" height="13.5" fill="#d2d7d8"/>
<rect x="591.4" y="657.9" width="8.3" height="17.6" fill="#d8dcdd"/>
<rect x="686.6" y="773.0" width="10.6" height="14.8" fill="#d2d7d8"/>
<rect x="666.5" y="765.0" width="13.7" height="16.1" fill="#d2d7d8"/>
<rect x="677.8" y="765.8" width="13.8" height="15.9" fill="#e0e3e3"/>
<rect x="620.6" y="688.8" width="14.1" height="20.2" fill="#cdd2d4"/>
<rect x="695.4" y="747.7" width="13.2" height="9.3" fill="#e0e3e3"/>
<rect x="631.3" y="657.6" width="16.2" height="13.8" fill="#d2d7d8"/>
<rect x="727.1" y="678.8" width="13.5" height="18.2" fill="#e0e3e3"/>
<rect x="706.0" y="773.1" width="6.4" height="9.3" fill="#cdd2d4"/>
<rect x="562.4" y="756.6" width="17.2" height="13.8" fill="#d8dcdd"/>
<rect x="709.3" y="714.4" width="7.7" height="13.1" fill="#d8dcdd"/>
<rect x="664.8" y="762.8" width="11.8" height="12.0" fill="#e0e3e3"/>
<rect x="573.0" y="744.0" width="10.1" height="18.0" fill="#d8dcdd"/>
<rect x="684.0" y="734.8" width="13.3" height="9.3" fill="#e0e3e3"/>
<rect x="613.5" y="656.7" width="10.4" height="12.1" fill="#d2d7d8"/>
<rect x="672.4" y="730.4" width="6.4" height="10.2" fill="#e0e3e3"/>
<rect x="729.1" y="723.5" width="7.8" height="18.6" fill="#e0e3e3"/>
<rect x="626.9" y="676.4" width="17.1" height="6.2" fill="#d2d7d8"/>
<rect x="569.3" y="738.5" width="14.4" height="18.8" fill="#cdd2d4"/>
<rect x="603.6" y="738.0" width="15.6" height="18.9" fill="#e0e3e3"/>
<rect x="741.2" y="753.8" width="13.4" height="18.3" fill="#e0e3e3"/>
<rect x="603.9" y="765.6" width="8.5" height="11.4" fill="#c2c8cb"/>
<rect x="738.3" y="743.2" width="11.3" height="18.7" fill="#c2c8cb"/>
<rect x="604.6" y="740.1" width="9.2" height="13.2" fill="#b9c0c4"/>
<rect x="575.0" y="690.0" width="35.0" height="90.0" fill="#c3c9cc"/>
<rect x="582.0" y="693.0" width="22.0" height="14.0" fill="#b3babd"/>
<rect x="654.0" y="700.0" width="28.0" height="80.0" fill="#bac2c6"/>
<rect x="656.0" y="702.0" width="22.0" height="12.0" fill="#adb5b9"/>
<rect x="612.0" y="735.0" width="30.0" height="40.0" fill="#c9cfd1"/>
<rect x="685.0" y="715.0" width="52.0" height="70.0" fill="#c1c8cb"/>
<rect x="700.0" y="700.0" width="20.0" height="90.0" fill="#b6bec2"/>
<path d="M742 583 L789 564 L790 800 L742 800 Z" fill="#b1bcc1"/>
<rect x="742.0" y="586.0" width="11.0" height="214.0" fill="#b9c3c8"/>
<path d="M748 582 L789 564 L789 576 L760 591 Z" fill="#a9c3c8"/>
<rect x="778.0" y="590.0" width="2.0" height="78.0" fill="#d3d9dc"/>
<rect x="784.0" y="590.0" width="2.0" height="78.0" fill="#d3d9dc"/>
<rect x="790.0" y="589.0" width="14.0" height="200.0" fill="#bac4c9"/>
<path d="M804 790 L804 558 L809 556 L809 528 L812 521 L826 531 L827 545 L829 545 L829 522 L838 518 L850 522 L850 545 L852 545 L853 531 L866 521 L870 528 L870 556 L873 558 L873 790 Z" fill="#b6c0c6"/>
<path d="M875 790 L875 558 L880 556 L880 528 L883 521 L897 531 L898 545 L900 545 L900 522 L909 518 L921 522 L921 545 L923 545 L924 531 L937 521 L941 528 L941 556 L944 558 L944 790 Z" fill="#b6c0c6"/>
<rect x="812.0" y="540.0" width="3.0" height="250.0" fill="#aab5bb"/>
<rect x="826.0" y="540.0" width="3.0" height="250.0" fill="#aab5bb"/>
<rect x="838.0" y="540.0" width="3.0" height="250.0" fill="#aab5bb"/>
<rect x="852.0" y="540.0" width="3.0" height="250.0" fill="#aab5bb"/>
<rect x="862.0" y="540.0" width="3.0" height="250.0" fill="#aab5bb"/>
<rect x="884.0" y="540.0" width="3.0" height="250.0" fill="#aab5bb"/>
<rect x="896.0" y="540.0" width="3.0" height="250.0" fill="#aab5bb"/>
<rect x="906.0" y="540.0" width="3.0" height="250.0" fill="#aab5bb"/>
<rect x="918.0" y="540.0" width="3.0" height="250.0" fill="#aab5bb"/>
<rect x="930.0" y="540.0" width="3.0" height="250.0" fill="#aab5bb"/>
<rect x="820.0" y="545.0" width="2.0" height="245.0" fill="#c4ccd0"/>
<rect x="845.0" y="545.0" width="2.0" height="245.0" fill="#c4ccd0"/>
<rect x="890.0" y="545.0" width="2.0" height="245.0" fill="#c4ccd0"/>
<rect x="925.0" y="545.0" width="2.0" height="245.0" fill="#c4ccd0"/>
<rect x="873.0" y="556.0" width="2.0" height="234.0" fill="#cbd2d6"/>
<rect x="803" y="512" width="140" height="120" fill="url(#haze2)"/>
<rect x="737.0" y="669.0" width="50.0" height="125.0" fill="#a3aaae"/>
<rect x="737.0" y="667.0" width="56.0" height="10.0" fill="#cfd4d5"/>
<rect x="785.0" y="684.0" width="37.0" height="110.0" fill="#d4d7d9"/>
<rect x="785" y="684" width="37" height="110" fill="url(#win3)" opacity="0.45"/>
<rect x="736.0" y="786.0" width="116.0" height="40.0" fill="#c2c8c9"/>
<ellipse cx="810.1" cy="814.8" rx="6.8" ry="5.4" fill="#b4bdaf"/>
<ellipse cx="834.0" cy="796.7" rx="9.1" ry="7.3" fill="#b4bdaf"/>
<ellipse cx="826.2" cy="799.2" rx="9.2" ry="7.3" fill="#a8b2a3"/>
<ellipse cx="804.1" cy="814.7" rx="6.0" ry="4.8" fill="#aeb8a9"/>
<ellipse cx="812.2" cy="802.5" rx="5.5" ry="4.4" fill="#aeb8a9"/>
<ellipse cx="834.0" cy="800.6" rx="7.3" ry="5.8" fill="#aeb8a9"/>
<ellipse cx="762.9" cy="807.1" rx="7.7" ry="6.1" fill="#a8b2a3"/>
<ellipse cx="838.0" cy="813.3" rx="8.9" ry="7.1" fill="#a8b2a3"/>
<ellipse cx="839.2" cy="811.5" rx="8.2" ry="6.5" fill="#b4bdaf"/>
<ellipse cx="761.7" cy="815.8" rx="7.7" ry="6.1" fill="#a8b2a3"/>
<ellipse cx="832.3" cy="815.1" rx="5.6" ry="4.5" fill="#aeb8a9"/>
<ellipse cx="769.1" cy="802.0" rx="5.7" ry="4.6" fill="#b4bdaf"/>
<ellipse cx="801.3" cy="809.5" rx="9.5" ry="7.6" fill="#a8b2a3"/>
<ellipse cx="794.1" cy="809.9" rx="7.7" ry="6.2" fill="#a8b2a3"/>
<rect x="851.0" y="686.0" width="81.0" height="140.0" fill="#d8dbdc"/>
<rect x="851.0" y="686.0" width="14.0" height="140.0" fill="#cfd3d5"/>
<rect x="865" y="690" width="52" height="135" fill="url(#win3)" opacity="0.4"/>
<rect x="918.0" y="705.0" width="14.0" height="120.0" fill="#e3e5e3"/>
<rect x="918.0" y="764.0" width="14.0" height="8.0" fill="#e0d9b0"/>
<path d="M942 606 L955 601 L970 597 L985 594 L1000 593 L1012 594 L1024 596 L1024 660 L942 660 Z" fill="#b3c0c1"/>
<rect x="942.0" y="628.0" width="82.0" height="200.0" fill="#cad2d6"/>
<rect x="942.0" y="644.9" width="8.1" height="185.1" fill="#dadedf"/>
<rect x="946.8" y="646.9" width="3.2" height="183.1" fill="#b9c2c7"/>
<rect x="952.7" y="630.0" width="18.1" height="200.0" fill="#dadedf"/>
<rect x="963.6" y="632.0" width="7.2" height="198.0" fill="#bfc7cc"/>
<rect x="971.5" y="638.7" width="12.3" height="191.3" fill="#cfd5d8"/>
<rect x="978.9" y="640.7" width="4.9" height="189.3" fill="#bfc7cc"/>
<rect x="986.6" y="628.6" width="19.2" height="201.4" fill="#cfd5d8"/>
<rect x="998.1" y="630.6" width="7.7" height="199.4" fill="#b9c2c7"/>
<rect x="1007.7" y="619.1" width="18.8" height="210.9" fill="#dadedf"/>
<rect x="1019.0" y="621.1" width="7.5" height="208.9" fill="#bfc7cc"/>
<rect x="943.0" y="709.0" width="37.0" height="27.0" fill="#bcb1b0"/>
<rect x="988.0" y="655.0" width="18.0" height="55.0" fill="#d6d2c0"/>
<rect x="940.0" y="745.0" width="84.0" height="80.0" fill="#ccd2d1"/>
<rect x="1012.1" y="771.1" width="12.6" height="11.8" fill="#c3cbca"/>
<rect x="962.4" y="769.1" width="9.5" height="5.7" fill="#b8c3c3"/>
<rect x="963.2" y="810.4" width="11.7" height="11.5" fill="#b8c3c3"/>
<rect x="1013.1" y="769.3" width="8.8" height="11.4" fill="#d8dcda"/>
<rect x="966.5" y="767.0" width="10.2" height="12.6" fill="#cdd3d1"/>
<rect x="945.5" y="824.7" width="11.6" height="12.2" fill="#dfe2e0"/>
<rect x="984.9" y="744.2" width="10.2" height="5.1" fill="#c3cbca"/>
<rect x="1008.7" y="780.4" width="16.7" height="5.8" fill="#bfc9c6"/>
<rect x="1016.2" y="792.0" width="14.6" height="13.1" fill="#cdd3d1"/>
<rect x="997.3" y="814.5" width="7.2" height="5.5" fill="#cdd3d1"/>
<rect x="977.4" y="804.8" width="7.4" height="7.4" fill="#d8dcda"/>
<rect x="974.3" y="748.6" width="19.0" height="5.2" fill="#c3cbca"/>
<rect x="1005.6" y="787.8" width="9.6" height="8.9" fill="#dfe2e0"/>
<rect x="940.9" y="741.7" width="13.9" height="12.5" fill="#d8dcda"/>
<rect x="980.8" y="784.4" width="17.5" height="15.1" fill="#dfe2e0"/>
<rect x="987.5" y="818.1" width="12.3" height="5.2" fill="#dfe2e0"/>
<rect x="989.1" y="824.4" width="15.2" height="7.0" fill="#dfe2e0"/>
<rect x="985.2" y="747.0" width="12.6" height="16.6" fill="#cdd3d1"/>
<rect x="939.3" y="740.4" width="15.6" height="6.6" fill="#d8dcda"/>
<rect x="956.8" y="750.3" width="12.6" height="8.6" fill="#bfc9c6"/>
<rect x="958.8" y="802.4" width="8.6" height="5.7" fill="#cdd3d1"/>
<rect x="999.4" y="812.7" width="16.2" height="6.1" fill="#cdd3d1"/>
<rect x="985.9" y="782.3" width="15.4" height="16.6" fill="#d8dcda"/>
<rect x="999.7" y="741.0" width="6.2" height="13.5" fill="#bfc9c6"/>
<rect x="944.9" y="766.4" width="16.2" height="7.2" fill="#dfe2e0"/>
<rect x="990.4" y="766.9" width="19.3" height="14.5" fill="#dfe2e0"/>
<rect x="996.2" y="752.3" width="17.2" height="9.7" fill="#cdd3d1"/>
<rect x="952.1" y="808.2" width="12.7" height="15.1" fill="#dfe2e0"/>
<rect x="1019.3" y="806.7" width="13.9" height="8.8" fill="#d8dcda"/>
<rect x="991.5" y="795.3" width="17.2" height="12.8" fill="#bfc9c6"/>
<rect x="1000.4" y="741.3" width="8.1" height="15.8" fill="#bfc9c6"/>
<rect x="974.9" y="815.5" width="11.3" height="13.9" fill="#bfc9c6"/>
<rect x="1004.3" y="759.9" width="12.3" height="14.0" fill="#b8c3c3"/>
<rect x="960.6" y="775.9" width="14.2" height="15.6" fill="#d8dcda"/>
<rect x="962.8" y="752.0" width="18.5" height="17.9" fill="#c3cbca"/>
<rect x="961.6" y="812.4" width="17.3" height="13.9" fill="#dfe2e0"/>
<rect x="967.8" y="747.2" width="13.8" height="15.4" fill="#c3cbca"/>
<rect x="1005.7" y="801.4" width="19.8" height="9.0" fill="#d8dcda"/>
<rect x="996.3" y="779.6" width="8.9" height="8.3" fill="#d8dcda"/>
<rect x="1006.1" y="779.1" width="7.2" height="15.5" fill="#d8dcda"/>
<rect x="958.0" y="789.3" width="18.6" height="16.5" fill="#bfc9c6"/>
<rect x="965.6" y="783.0" width="8.8" height="7.8" fill="#d8dcda"/>
<rect x="953.5" y="799.6" width="11.1" height="12.3" fill="#dfe2e0"/>
<rect x="1005.0" y="812.8" width="9.4" height="17.0" fill="#dfe2e0"/>
<rect x="970.2" y="749.0" width="14.9" height="15.2" fill="#c3cbca"/>
<rect x="250.0" y="730.0" width="170.0" height="45.0" fill="#d0d5d5"/>
<rect x="297.4" y="732.8" width="8.3" height="42.2" fill="#d6dadb"/>
<rect x="264.1" y="742.8" width="10.0" height="32.2" fill="#c3c9cb"/>
<rect x="338.0" y="743.7" width="10.1" height="31.3" fill="#dde0e0"/>
<rect x="313.9" y="741.0" width="17.5" height="34.0" fill="#c9cfd0"/>
<rect x="288.1" y="731.4" width="8.4" height="43.6" fill="#c9cfd0"/>
<rect x="306.7" y="728.6" width="8.3" height="46.4" fill="#dde0e0"/>
<rect x="380.6" y="744.1" width="12.6" height="30.9" fill="#d6dadb"/>
<rect x="379.4" y="743.7" width="14.4" height="31.3" fill="#d6dadb"/>
<rect x="288.6" y="738.9" width="13.6" height="36.1" fill="#c3c9cb"/>
<rect x="277.4" y="734.3" width="16.5" height="40.7" fill="#c9cfd0"/>
<rect x="398.8" y="728.7" width="10.2" height="46.3" fill="#dde0e0"/>
<rect x="391.2" y="737.4" width="8.6" height="37.6" fill="#d6dadb"/>
<rect x="375.6" y="741.4" width="8.5" height="33.6" fill="#c3c9cb"/>
<rect x="258.4" y="740.8" width="9.4" height="34.2" fill="#c9cfd0"/>
<path d="M0 722 L120 726 L250 734 L290 748 L340 760 L400 768 L530 775 L600 774 L700 776 L740 790 L740 825 L0 825 Z" fill="#bec6b8"/>
<path d="M0 722 L120 726 L250 734 L290 748 L300 758 L250 754 L120 752 L0 750 Z" fill="#aeb9a8"/>
<ellipse cx="437.7" cy="785.9" rx="4.6" ry="3.7" fill="#afb9a9"/>
<ellipse cx="275.0" cy="756.8" rx="6.2" ry="5.0" fill="#afb9a9"/>
<ellipse cx="124.7" cy="744.8" rx="4.9" ry="3.9" fill="#a4af9f"/>
<ellipse cx="675.3" cy="789.1" rx="4.9" ry="4.0" fill="#a9b4a3"/>
<ellipse cx="276.1" cy="785.2" rx="8.7" ry="6.9" fill="#a9b4a3"/>
<ellipse cx="16.1" cy="731.9" rx="9.8" ry="7.9" fill="#afb9a9"/>
<ellipse cx="528.2" cy="769.7" rx="4.9" ry="3.9" fill="#a9b4a3"/>
<ellipse cx="197.1" cy="758.5" rx="4.9" ry="3.9" fill="#afb9a9"/>
<ellipse cx="380.0" cy="775.8" rx="8.7" ry="7.0" fill="#a9b4a3"/>
<ellipse cx="414.4" cy="792.0" rx="4.7" ry="3.8" fill="#a9b4a3"/>
<ellipse cx="193.5" cy="744.9" rx="5.4" ry="4.3" fill="#afb9a9"/>
<ellipse cx="214.2" cy="796.8" rx="4.3" ry="3.5" fill="#a4af9f"/>
<ellipse cx="473.5" cy="760.9" rx="7.0" ry="5.6" fill="#a4af9f"/>
<ellipse cx="615.9" cy="767.6" rx="5.1" ry="4.1" fill="#afb9a9"/>
<ellipse cx="204.9" cy="740.3" rx="9.1" ry="7.2" fill="#a4af9f"/>
<ellipse cx="570.1" cy="782.2" rx="5.2" ry="4.1" fill="#a9b4a3"/>
<ellipse cx="613.4" cy="796.3" rx="8.4" ry="6.7" fill="#afb9a9"/>
<ellipse cx="129.7" cy="736.8" rx="8.0" ry="6.4" fill="#a4af9f"/>
<ellipse cx="600.6" cy="772.1" rx="5.2" ry="4.2" fill="#a9b4a3"/>
<ellipse cx="512.3" cy="767.0" rx="9.0" ry="7.2" fill="#a9b4a3"/>
<ellipse cx="383.7" cy="753.5" rx="5.7" ry="4.6" fill="#a4af9f"/>
<ellipse cx="352.7" cy="794.9" rx="5.6" ry="4.5" fill="#a9b4a3"/>
<ellipse cx="416.7" cy="803.9" rx="4.2" ry="3.4" fill="#a4af9f"/>
<ellipse cx="274.7" cy="773.0" rx="4.0" ry="3.2" fill="#a4af9f"/>
<ellipse cx="689.8" cy="802.5" rx="4.4" ry="3.5" fill="#afb9a9"/>
<ellipse cx="528.8" cy="790.5" rx="9.2" ry="7.4" fill="#afb9a9"/>
<ellipse cx="576.6" cy="794.6" rx="7.5" ry="6.0" fill="#a9b4a3"/>
<ellipse cx="540.9" cy="761.3" rx="4.2" ry="3.3" fill="#a4af9f"/>
<ellipse cx="99.4" cy="745.2" rx="4.5" ry="3.6" fill="#a4af9f"/>
<ellipse cx="135.0" cy="734.1" rx="5.5" ry="4.4" fill="#a9b4a3"/>
<ellipse cx="619.6" cy="776.3" rx="6.8" ry="5.4" fill="#a9b4a3"/>
<ellipse cx="643.4" cy="782.7" rx="4.3" ry="3.4" fill="#a9b4a3"/>
<ellipse cx="344.0" cy="772.3" rx="8.6" ry="6.9" fill="#a9b4a3"/>
<ellipse cx="423.9" cy="785.0" rx="5.0" ry="4.0" fill="#a9b4a3"/>
<ellipse cx="311.2" cy="792.3" rx="7.2" ry="5.7" fill="#afb9a9"/>
<ellipse cx="268.8" cy="757.7" rx="9.0" ry="7.2" fill="#a4af9f"/>
<ellipse cx="322.3" cy="803.5" rx="8.8" ry="7.1" fill="#afb9a9"/>
<ellipse cx="603.1" cy="793.0" rx="4.3" ry="3.5" fill="#a4af9f"/>
<ellipse cx="261.5" cy="794.8" rx="8.0" ry="6.4" fill="#a9b4a3"/>
<ellipse cx="269.7" cy="767.9" rx="4.4" ry="3.5" fill="#afb9a9"/>
<ellipse cx="166.9" cy="759.2" rx="6.4" ry="5.1" fill="#afb9a9"/>
<ellipse cx="468.6" cy="789.9" rx="9.3" ry="7.4" fill="#a9b4a3"/>
<ellipse cx="196.7" cy="779.6" rx="5.6" ry="4.5" fill="#a4af9f"/>
<ellipse cx="74.4" cy="735.6" rx="4.1" ry="3.3" fill="#a9b4a3"/>
<ellipse cx="226.0" cy="777.2" rx="4.7" ry="3.8" fill="#a4af9f"/>
<ellipse cx="709.7" cy="798.8" rx="9.4" ry="7.5" fill="#a9b4a3"/>
<ellipse cx="345.1" cy="768.2" rx="4.9" ry="3.9" fill="#a9b4a3"/>
<ellipse cx="378.6" cy="795.9" rx="9.5" ry="7.6" fill="#a4af9f"/>
<ellipse cx="213.3" cy="745.2" rx="4.5" ry="3.6" fill="#a4af9f"/>
<ellipse cx="212.5" cy="761.9" rx="8.2" ry="6.5" fill="#a9b4a3"/>
<ellipse cx="525.7" cy="762.4" rx="7.3" ry="5.8" fill="#a4af9f"/>
<ellipse cx="353.6" cy="790.7" rx="4.2" ry="3.3" fill="#afb9a9"/>
<ellipse cx="164.0" cy="766.5" rx="6.3" ry="5.0" fill="#a4af9f"/>
<ellipse cx="293.4" cy="799.0" rx="5.0" ry="4.0" fill="#a9b4a3"/>
<ellipse cx="239.7" cy="751.7" rx="5.6" ry="4.5" fill="#a9b4a3"/>
<ellipse cx="218.7" cy="787.0" rx="5.0" ry="4.0" fill="#a9b4a3"/>
<ellipse cx="486.7" cy="766.8" rx="9.0" ry="7.2" fill="#afb9a9"/>
<path d="M150 790 L300 796 L400 802 L420 825 L160 825 Z" fill="#c7cebf"/>
<path d="M0 756 C40 760 75 767 100 778 C118 787 135 804 146 825 L154 825 C143 802 126 784 106 774 C80 763 42 755 0 751 Z" fill="#d5d8d2"/>
<path d="M0 762 C40 766 75 774 98 786 C114 796 128 810 138 825 L0 825 Z" fill="#bec8b6"/>
<path d="M0 770 C25 772 55 779 80 790 C95 798 108 810 116 825 L0 825 Z" fill="#b7c6ce"/>
<path d="M0 795 C25 797 50 802 70 810 C80 815 88 820 92 825 L0 825 Z" fill="#b1c1ca"/>
<path d="M380 808 L520 800 L640 806 L740 812 L740 825 L380 825 Z" fill="#d2d6d5"/>
<path d="M420 816 L600 812 L740 818 L740 822 L420 822 Z" fill="#c6cbcc"/>
<ellipse cx="707.1" cy="774.9" rx="6.4" ry="5.1" fill="#b4bdaf"/>
<ellipse cx="643.4" cy="800.1" rx="5.8" ry="4.7" fill="#b4bdaf"/>
<ellipse cx="683.3" cy="808.2" rx="9.9" ry="7.9" fill="#b4bdaf"/>
<ellipse cx="707.8" cy="803.4" rx="9.6" ry="7.6" fill="#adb7a8"/>
<ellipse cx="613.7" cy="798.4" rx="8.8" ry="7.0" fill="#b4bdaf"/>
<ellipse cx="642.6" cy="774.7" rx="7.5" ry="6.0" fill="#b4bdaf"/>
<ellipse cx="659.6" cy="813.3" rx="8.4" ry="6.7" fill="#adb7a8"/>
<ellipse cx="730.0" cy="782.6" rx="8.7" ry="7.0" fill="#b4bdaf"/>
<ellipse cx="635.9" cy="790.4" rx="7.7" ry="6.2" fill="#adb7a8"/>
<ellipse cx="618.6" cy="787.6" rx="8.3" ry="6.7" fill="#adb7a8"/>
<ellipse cx="689.6" cy="770.3" rx="9.5" ry="7.6" fill="#adb7a8"/>
<ellipse cx="636.1" cy="783.5" rx="8.2" ry="6.6" fill="#b4bdaf"/>
<ellipse cx="647.1" cy="787.0" rx="6.4" ry="5.1" fill="#adb7a8"/>
<ellipse cx="624.8" cy="808.0" rx="10.0" ry="8.0" fill="#adb7a8"/>
<ellipse cx="600.9" cy="789.2" rx="10.5" ry="8.4" fill="#b4bdaf"/>
<ellipse cx="565.1" cy="781.5" rx="10.4" ry="8.3" fill="#adb7a8"/>
<ellipse cx="744.1" cy="804.8" rx="8.2" ry="6.6" fill="#adb7a8"/>
<ellipse cx="663.5" cy="793.3" rx="9.1" ry="7.3" fill="#adb7a8"/>
<ellipse cx="652.8" cy="771.8" rx="9.1" ry="7.2" fill="#adb7a8"/>
<ellipse cx="749.6" cy="800.4" rx="8.2" ry="6.5" fill="#b4bdaf"/>
<ellipse cx="641.9" cy="792.5" rx="8.9" ry="7.1" fill="#b4bdaf"/>
<ellipse cx="736.0" cy="813.4" rx="7.9" ry="6.3" fill="#adb7a8"/>
<ellipse cx="713.5" cy="810.5" rx="8.5" ry="6.8" fill="#b4bdaf"/>
<ellipse cx="594.1" cy="784.3" rx="10.9" ry="8.7" fill="#adb7a8"/>
<ellipse cx="662.5" cy="775.0" rx="10.4" ry="8.3" fill="#adb7a8"/>
<ellipse cx="976.6" cy="824.7" rx="9.4" ry="7.6" fill="#b2bcad"/>
<ellipse cx="926.6" cy="810.7" rx="9.1" ry="7.3" fill="#bac2b5"/>
<ellipse cx="893.3" cy="800.6" rx="5.9" ry="4.7" fill="#bac2b5"/>
<ellipse cx="853.2" cy="824.8" rx="8.2" ry="6.5" fill="#bac2b5"/>
<ellipse cx="942.6" cy="795.3" rx="5.0" ry="4.0" fill="#bac2b5"/>
<ellipse cx="1002.1" cy="806.9" rx="5.5" ry="4.4" fill="#bac2b5"/>
<ellipse cx="936.4" cy="800.9" rx="7.5" ry="6.0" fill="#b2bcad"/>
<ellipse cx="990.0" cy="821.9" rx="7.6" ry="6.1" fill="#bac2b5"/>
<ellipse cx="911.7" cy="807.3" rx="5.6" ry="4.5" fill="#bac2b5"/>
<ellipse cx="896.9" cy="810.3" rx="5.1" ry="4.1" fill="#bac2b5"/>
<ellipse cx="805.0" cy="810.7" rx="9.1" ry="7.3" fill="#b2bcad"/>
<ellipse cx="972.9" cy="796.9" rx="5.1" ry="4.0" fill="#b2bcad"/>
<ellipse cx="798.0" cy="802.1" rx="6.4" ry="5.1" fill="#bac2b5"/>
<ellipse cx="830.4" cy="798.0" rx="9.5" ry="7.6" fill="#bac2b5"/>
<ellipse cx="852.1" cy="808.5" rx="6.9" ry="5.5" fill="#bac2b5"/>
</g>
<!--sp--><path d="M975 756 C978 770 982 774 996 777 C982 780 978 784 975 798 C972 784 968 780 954 777 C968 774 972 770 975 756 Z" fill="#eceeed" opacity="0.75"/><!--/sp-->
</svg>

<svg id="fg" width="1024" height="825" viewBox="0 0 1024 825">
<defs>
<linearGradient id="gGray" gradientUnits="userSpaceOnUse" x1="202" y1="0" x2="616" y2="0">
<stop offset="0" stop-color="#c9c9c9"/><stop offset="0.5" stop-color="#929292"/><stop offset="1" stop-color="#6a6a6a"/>
</linearGradient>
<linearGradient id="gBlue" gradientUnits="userSpaceOnUse" x1="202" y1="0" x2="616" y2="0">
<stop offset="0" stop-color="#bddcf6"/><stop offset="0.45" stop-color="#5f98e8"/><stop offset="1" stop-color="#2272e6"/>
</linearGradient>
<linearGradient id="gOr" gradientUnits="userSpaceOnUse" x1="202" y1="0" x2="616" y2="0">
<stop offset="0" stop-color="#fccaa2"/><stop offset="0.5" stop-color="#f6865a"/><stop offset="1" stop-color="#f2521e"/>
</linearGradient>
</defs>
<!-- axis -->
<rect x="72" y="641" width="651" height="3" fill="#5f6264"/>
<rect x="201" y="623" width="2" height="19" fill="#5f6264"/>
<rect x="613" y="622" width="2" height="20" fill="#5f6264"/>
<!-- halos -->
<g stroke="#ffffff" stroke-opacity="0.55" fill="none" stroke-width="10">
<line x1="202.5" y1="328.7" x2="615.6" y2="207.8"/>
<line x1="202.5" y1="415" x2="616" y2="334"/>
<line x1="202.5" y1="574.2" x2="616" y2="480"/>
</g>
<g fill="#ffffff" fill-opacity="0.55">
<circle cx="202.5" cy="328.7" r="16.5"/><circle cx="615.6" cy="207.8" r="16.5"/>
<circle cx="202.5" cy="415" r="16.5"/><circle cx="616" cy="334" r="16.5"/>
<circle cx="202.5" cy="574.7" r="16.5"/><circle cx="616" cy="480" r="16.5"/>
</g>
<!-- lines -->
<line x1="202.5" y1="328.7" x2="615.6" y2="207.8" stroke="url(#gGray)" stroke-width="6.2"/>
<line x1="202.5" y1="415" x2="616" y2="334" stroke="url(#gBlue)" stroke-width="6.2"/>
<line x1="202.5" y1="574.2" x2="616" y2="480" stroke="url(#gOr)" stroke-width="6.2"/>
<!-- circles -->
<circle cx="202.5" cy="328.7" r="10.8" fill="#f4f4f4" stroke="#8a8a8a" stroke-width="7"/>
<circle cx="615.6" cy="207.8" r="10.8" fill="#f4f4f4" stroke="#6c6c6c" stroke-width="7"/>
<circle cx="202.5" cy="415" r="10.8" fill="#f6f6f4" stroke="#70a6de" stroke-width="7"/>
<circle cx="616" cy="334" r="10.8" fill="#f6f6f6" stroke="#2272e6" stroke-width="7"/>
<circle cx="202.5" cy="574.7" r="10.8" fill="#fdfaf4" stroke="#f8aa7c" stroke-width="7"/>
<circle cx="616" cy="480" r="10.8" fill="#f6f6f6" stroke="#f2521e" stroke-width="7"/>
<!-- boxes -->
<path d="M813 131.5 H972 Q982 131.5 982 141.5 V215.5 Q982 225.5 972 225.5 H813 Q803 225.5 803 215.5 V201 H780 L803 184 V141.5 Q803 131.5 813 131.5 Z" fill="#585858"/>
<path d="M813 264.8 H971.5 Q981.5 264.8 981.5 274.8 V348.6 Q981.5 358.6 971.5 358.6 H813 Q803 358.6 803 348.6 V333.5 L778.3 325.3 L803 317 V274.8 Q803 264.8 813 264.8 Z" fill="#2a76e6"/>
<path d="M813 422.9 H971.5 Q981.5 422.9 981.5 432.9 V506.6 Q981.5 516.6 971.5 516.6 H813 Q803 516.6 803 506.6 V491 L779.2 483.8 L803 476.8 V432.9 Q803 422.9 813 422.9 Z" fill="#ef5a24"/>
</svg>

<!-- title -->
<div class="t" id="title" style="left:143px;top:35px;font-size:46px;font-weight:700;letter-spacing:-2.75px;color:#0e0e0e;transform:scaleY(1.04);transform-origin:0 0">ソウル民間マンション分譲価格の推移</div>

<!-- labels -->
<div class="t" id="l1d" style="left:41.2px;top:301.2px;font-size:48px;font-weight:700;color:#111;letter-spacing:-2px;transform:scaleX(1.006);transform-origin:0 0">4,050</div>
<div class="t" id="l1m" style="left:153.4px;top:315.2px;font-size:30px;font-weight:700;color:#111">万</div>
<div class="t" id="l2d" style="left:51.7px;top:393.8px;font-size:48px;font-weight:700;color:#111;letter-spacing:-2px;transform:scaleX(0.895);transform-origin:0 0">3,477</div>
<div class="t" id="l2m" style="left:152.7px;top:406.8px;font-size:30px;font-weight:700;color:#111">万</div>
<div class="t" id="l3d" style="left:51.7px;top:550.7px;font-size:48px;font-weight:700;color:#111;letter-spacing:-2px;transform:scaleX(0.924);transform-origin:0 0">2,638</div>
<div class="t" id="l3m" style="left:155.0px;top:563.7px;font-size:30px;font-weight:700;color:#111">万</div>
<div class="t" id="r1d" style="left:640.7px;top:185.5px;font-size:48px;font-weight:700;color:#111;letter-spacing:-2px;transform:scaleX(0.946);transform-origin:0 0">7,308</div>
<div class="t" id="r1m" style="left:746.4px;top:199.5px;font-size:30px;font-weight:700;color:#111">万</div>
<div class="t" id="r2d" style="left:640.7px;top:306.0px;font-size:48px;font-weight:700;color:#111;letter-spacing:-2px;transform:scaleX(0.84);transform-origin:0 0">5,<span style="margin:0 -3px 0 -3px">1</span>3<span style="margin:0 -3px 0 -3px">1</span></div>
<div class="t" id="r2m" style="left:728.4px;top:319.0px;font-size:30px;font-weight:700;color:#111">万</div>
<div class="t" id="r3d" style="left:640.0px;top:455.0px;font-size:48px;font-weight:700;color:#111;letter-spacing:-2px;transform:scaleX(0.939);transform-origin:0 0">4,832</div>
<div class="t" id="r3m" style="left:745.6px;top:468.0px;font-size:30px;font-weight:700;color:#111">万</div>

<!-- box texts -->
<div class="t" id="b1a" style="left:849px;top:138px;font-size:29px;font-weight:700;color:#f2f2f2">城東区</div>
<div class="t" id="b1b" style="left:838px;top:164px;font-size:18.5px;font-weight:700;color:#f2f2f2;letter-spacing:0.2px">(ソンドン区)</div>
<div class="t" id="b1c" style="left:831px;top:182px;font-size:42px;font-weight:700;color:#f4f4f4;transform:scaleX(1.24);transform-origin:0 0">80</div>
<div class="t" id="b1d" style="left:887px;top:195px;font-size:24px;font-weight:700;color:#f4f4f4">%上昇</div>

<div class="t" id="b2a" style="left:822px;top:281px;font-size:28px;font-weight:700;color:#fff">ソウル平均</div>
<div class="t" id="b2b" style="left:831px;top:311px;font-size:46.5px;font-weight:700;color:#fff;transform:scaleX(1.07);transform-origin:0 0">48</div>
<div class="t" id="b2d" style="left:886px;top:327px;font-size:24px;font-weight:700;color:#fff">%上昇</div>

<div class="t" id="b3a" style="left:834px;top:429px;font-size:29px;font-weight:700;color:#fff">永登浦区</div>
<div class="t" id="b3b" style="left:821px;top:457px;font-size:18.5px;font-weight:700;color:#fff;letter-spacing:0px">(ヨンドゥンポ区)</div>
<div class="t" id="b3c" style="left:834px;top:472px;font-size:42px;font-weight:700;color:#fde67c;transform:scaleX(1.12);transform-origin:0 0">83</div>
<div class="t" id="b3d" style="left:885px;top:486px;font-size:24px;font-weight:700;color:#fff">%上昇</div>

<!-- years -->
<div class="t" id="y1" style="left:154px;top:661px;font-size:34px;color:#151515;letter-spacing:-1.3px">2022<span style="font-size:30px;letter-spacing:0">年</span></div>
<div class="t" id="y2" style="left:566px;top:661px;font-size:34px;color:#151515;letter-spacing:-1.3px">2025<span style="font-size:30px;letter-spacing:0">年</span></div>

<!-- notes -->
<div class="t" id="n1" style="left:104px;top:741px;font-size:23px;font-weight:500;color:#1a1a1a">単位<span style="margin:0 -3px 0 -5px">：</span>3.3㎡あたりの万ウォン</div>
<div class="t" id="n2" style="left:104px;top:769px;font-size:23px;font-weight:500;color:#1a1a1a">出典<span style="margin:0 -3px 0 -5px">：</span><span style="letter-spacing:1.2px">不動産R114</span></div>
</body></html>
